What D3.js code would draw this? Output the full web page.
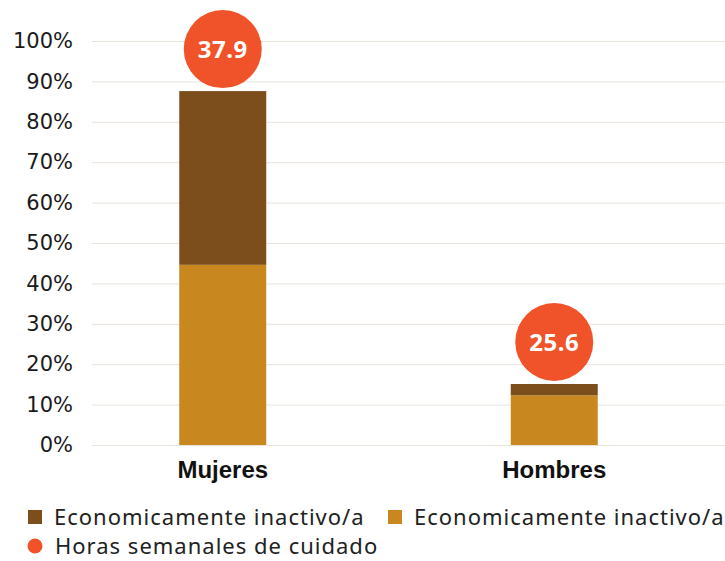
<!DOCTYPE html>
<html>
<head>
<meta charset="utf-8">
<script src="https://cdn.jsdelivr.net/npm/d3@7"></script>
<style>
  body { margin: 0; background: #fff; }
  svg { display: block; font-family: 'Noto Sans', 'DejaVu Sans', sans-serif; }
</style>
</head>
<body>
<script>
const width = 725;
const height = 561;

// datos
const categories = ['Mujeres', 'Hombres'];
const activeValues = [44.6, 12.3];   // parte inferior (dorado)
const inactiveValues = [43.0, 2.8];  // parte superior (marrón)
const careHours = [37.9, 25.6];
const yTicks = [0, 10, 20, 30, 40, 50, 60, 70, 80, 90, 100];
const legendLabels = ['Economicamente inactivo/a', 'Economicamente inactivo/a', 'Horas semanales de cuidado'];

const colors = { dark: '#7b4e1c', gold: '#c8871f', dot: '#f0532a', grid: '#e9e3dd' };

const svg = d3.select('body').append('svg').attr('width', width).attr('height', height);

const x = d3.scaleBand().domain(categories).range([57, 720]).paddingInner(0.7376).paddingOuter(0.3688);
const y = d3.scaleLinear().domain([0, 100]).range([445, 41]);

// grid
const grid = svg.append('g').attr('transform', 'translate(92,0)')
  .call(d3.axisLeft(y).tickValues(yTicks).tickSize(-633).tickFormat(''));
grid.select('.domain').remove();
grid.selectAll('line').attr('stroke', colors.grid).attr('stroke-width', 1);

// eje y
const yAxis = svg.append('g').attr('transform', 'translate(73,0)')
  .call(d3.axisLeft(y).tickValues(yTicks).tickSize(0).tickPadding(0).tickFormat(d => d + '%'));
yAxis.select('.domain').remove();
yAxis.selectAll('text').attr('font-size', 21).attr('fill', '#1a1a1a').attr('font-family', 'DejaVu Sans, sans-serif');

// barras apiladas
const rows = categories.map((c, i) => ({ cat: c, active: activeValues[i], inactive: inactiveValues[i], hours: careHours[i] }));
const stack = d3.stack().keys(['active', 'inactive'])(rows);
const fills = { active: colors.gold, inactive: colors.dark };

svg.append('g').selectAll('g').data(stack).join('g')
  .attr('fill', s => fills[s.key])
  .selectAll('rect').data(s => s).join('rect')
  .attr('x', d => x(d.data.cat))
  .attr('width', x.bandwidth())
  .attr('y', d => y(d[1]))
  .attr('height', d => y(d[0]) - y(d[1]));

// círculos de horas
const r = 39;
const dots = svg.append('g').selectAll('g').data(rows).join('g')
  .attr('transform', d => `translate(${x(d.cat) + x.bandwidth() / 2},${y(d.active + d.inactive) - r - 3})`);
dots.append('circle').attr('r', r).attr('fill', colors.dot);
dots.append('text').text(d => d.hours.toFixed(1))
  .attr('text-anchor', 'middle').attr('dy', '0.36em')
  .attr('fill', '#fff').attr('font-weight', 'bold').attr('font-size', 24)
  .attr('letter-spacing', 0.5);

// eje x
const xAxis = svg.append('g').attr('transform', 'translate(0,445)')
  .call(d3.axisBottom(x).tickSize(0).tickPadding(0));
xAxis.select('.domain').remove();
xAxis.selectAll('text').attr('y', 33).attr('dy', 0)
  .attr('font-size', 24).attr('font-weight', 'bold').attr('fill', '#111');

// leyenda
const legend = svg.append('g');
const items = [
  { label: legendLabels[0], color: colors.dark, shape: 'rect', x: 28, y: 517 },
  { label: legendLabels[1], color: colors.gold, shape: 'rect', x: 388, y: 517 },
  { label: legendLabels[2], color: colors.dot, shape: 'circle', x: 28, y: 546 },
];
items.forEach(it => {
  const g = legend.append('g').attr('transform', `translate(${it.x},${it.y})`);
  if (it.shape === 'rect') {
    g.append('rect').attr('x', 0).attr('y', -7).attr('width', 14).attr('height', 14).attr('fill', it.color);
  } else {
    g.append('circle').attr('cx', 7).attr('cy', 0).attr('r', 7.5).attr('fill', it.color);
  }
  g.append('text').attr('x', it.shape === 'rect' ? 26 : 27).attr('dy', '0.35em').text(it.label)
    .attr('font-size', 22).attr('letter-spacing', 1).attr('fill', '#222');
});
</script>
</body>
</html>
